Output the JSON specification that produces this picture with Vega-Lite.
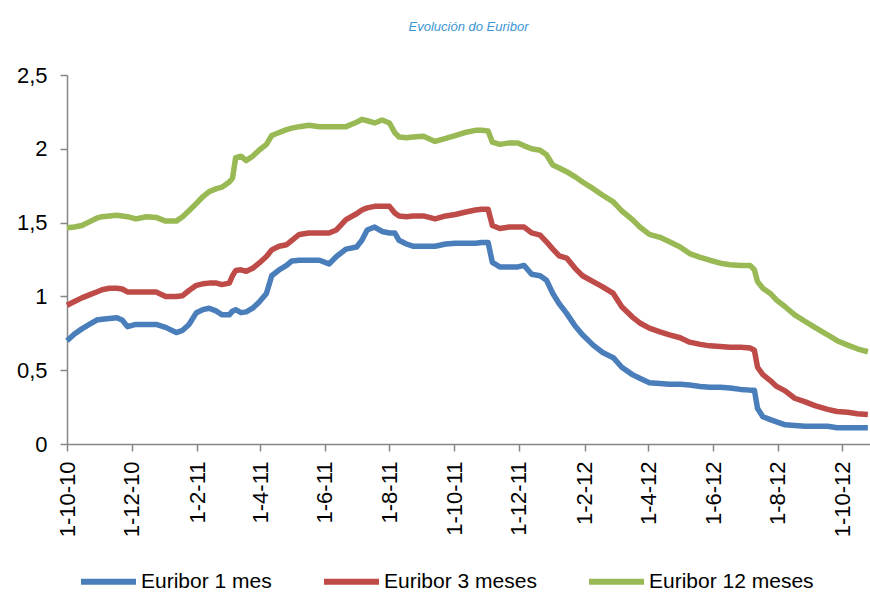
{
  "$schema": "https://vega.github.io/schema/vega-lite/v6.json",
  "width": 803,
  "height": 369,
  "autosize": {"type": "none"},
  "padding": {"left": 67, "top": 75, "right": 0, "bottom": 151},
  "background": "white",
  "title": {
    "text": "Evolución do Euribor",
    "anchor": "middle",
    "offset": 30,
    "font": "Liberation Sans",
    "fontStyle": "italic",
    "fontWeight": "normal",
    "fontSize": 13,
    "color": "#3A96D4"
  },
  "config": {
    "view": {"stroke": null},
    "axis": {
      "grid": false,
      "domainColor": "#868686",
      "tickColor": "#868686",
      "domainWidth": 1.5,
      "tickWidth": 1.5,
      "tickSize": 7,
      "labelColor": "#000000",
      "title": null
    }
  },
  "data": {
    "values": [
      {"d": "2010-10-01", "m1": 0.70, "m3": 0.94, "m12": 1.465},
      {"d": "2010-10-08", "m1": 0.745, "m3": 0.965, "m12": 1.47},
      {"d": "2010-10-15", "m1": 0.78, "m3": 0.99, "m12": 1.48},
      {"d": "2010-10-22", "m1": 0.81, "m3": 1.01, "m12": 1.505},
      {"d": "2010-10-29", "m1": 0.84, "m3": 1.03, "m12": 1.53},
      {"d": "2010-11-03", "m1": 0.845, "m3": 1.045, "m12": 1.54},
      {"d": "2010-11-10", "m1": 0.85, "m3": 1.055, "m12": 1.545},
      {"d": "2010-11-17", "m1": 0.855, "m3": 1.055, "m12": 1.55},
      {"d": "2010-11-22", "m1": 0.84, "m3": 1.05, "m12": 1.545},
      {"d": "2010-11-27", "m1": 0.795, "m3": 1.03, "m12": 1.54},
      {"d": "2010-12-05", "m1": 0.81, "m3": 1.03, "m12": 1.525},
      {"d": "2010-12-15", "m1": 0.81, "m3": 1.03, "m12": 1.54},
      {"d": "2010-12-24", "m1": 0.81, "m3": 1.03, "m12": 1.535},
      {"d": "2011-01-02", "m1": 0.79, "m3": 1.00, "m12": 1.51},
      {"d": "2011-01-12", "m1": 0.755, "m3": 1.00, "m12": 1.51},
      {"d": "2011-01-18", "m1": 0.77, "m3": 1.005, "m12": 1.54},
      {"d": "2011-01-24", "m1": 0.81, "m3": 1.04, "m12": 1.58},
      {"d": "2011-01-31", "m1": 0.89, "m3": 1.075, "m12": 1.63},
      {"d": "2011-02-06", "m1": 0.91, "m3": 1.085, "m12": 1.675},
      {"d": "2011-02-12", "m1": 0.92, "m3": 1.09, "m12": 1.71},
      {"d": "2011-02-19", "m1": 0.90, "m3": 1.09, "m12": 1.73},
      {"d": "2011-02-24", "m1": 0.875, "m3": 1.08, "m12": 1.74},
      {"d": "2011-03-03", "m1": 0.875, "m3": 1.09, "m12": 1.775},
      {"d": "2011-03-06", "m1": 0.90, "m3": 1.14, "m12": 1.80},
      {"d": "2011-03-09", "m1": 0.91, "m3": 1.175, "m12": 1.94},
      {"d": "2011-03-14", "m1": 0.89, "m3": 1.18, "m12": 1.95},
      {"d": "2011-03-19", "m1": 0.895, "m3": 1.17, "m12": 1.92},
      {"d": "2011-03-25", "m1": 0.92, "m3": 1.19, "m12": 1.95},
      {"d": "2011-03-31", "m1": 0.96, "m3": 1.225, "m12": 1.99},
      {"d": "2011-04-07", "m1": 1.02, "m3": 1.27, "m12": 2.03},
      {"d": "2011-04-12", "m1": 1.14, "m3": 1.315, "m12": 2.09},
      {"d": "2011-04-19", "m1": 1.18, "m3": 1.34, "m12": 2.11},
      {"d": "2011-04-26", "m1": 1.21, "m3": 1.35, "m12": 2.13},
      {"d": "2011-05-01", "m1": 1.24, "m3": 1.38, "m12": 2.14},
      {"d": "2011-05-08", "m1": 1.245, "m3": 1.42, "m12": 2.15},
      {"d": "2011-05-17", "m1": 1.245, "m3": 1.43, "m12": 2.16},
      {"d": "2011-05-27", "m1": 1.245, "m3": 1.43, "m12": 2.15},
      {"d": "2011-06-05", "m1": 1.22, "m3": 1.43, "m12": 2.15},
      {"d": "2011-06-12", "m1": 1.27, "m3": 1.45, "m12": 2.15},
      {"d": "2011-06-21", "m1": 1.32, "m3": 1.52, "m12": 2.15},
      {"d": "2011-07-01", "m1": 1.335, "m3": 1.56, "m12": 2.18},
      {"d": "2011-07-06", "m1": 1.38, "m3": 1.585, "m12": 2.20},
      {"d": "2011-07-11", "m1": 1.45, "m3": 1.60, "m12": 2.19},
      {"d": "2011-07-18", "m1": 1.47, "m3": 1.61, "m12": 2.175},
      {"d": "2011-07-25", "m1": 1.44, "m3": 1.61, "m12": 2.195},
      {"d": "2011-08-01", "m1": 1.43, "m3": 1.61, "m12": 2.175},
      {"d": "2011-08-06", "m1": 1.43, "m3": 1.565, "m12": 2.11},
      {"d": "2011-08-10", "m1": 1.38, "m3": 1.545, "m12": 2.08},
      {"d": "2011-08-17", "m1": 1.355, "m3": 1.54, "m12": 2.075},
      {"d": "2011-08-23", "m1": 1.34, "m3": 1.545, "m12": 2.08},
      {"d": "2011-09-02", "m1": 1.34, "m3": 1.545, "m12": 2.085},
      {"d": "2011-09-13", "m1": 1.34, "m3": 1.525, "m12": 2.05},
      {"d": "2011-09-23", "m1": 1.355, "m3": 1.545, "m12": 2.07},
      {"d": "2011-10-02", "m1": 1.36, "m3": 1.555, "m12": 2.09},
      {"d": "2011-10-11", "m1": 1.36, "m3": 1.57, "m12": 2.11},
      {"d": "2011-10-21", "m1": 1.36, "m3": 1.585, "m12": 2.125},
      {"d": "2011-10-27", "m1": 1.365, "m3": 1.59, "m12": 2.125},
      {"d": "2011-11-02", "m1": 1.365, "m3": 1.59, "m12": 2.12},
      {"d": "2011-11-06", "m1": 1.23, "m3": 1.48, "m12": 2.045},
      {"d": "2011-11-13", "m1": 1.20, "m3": 1.46, "m12": 2.03},
      {"d": "2011-11-22", "m1": 1.20, "m3": 1.47, "m12": 2.04},
      {"d": "2011-11-30", "m1": 1.20, "m3": 1.47, "m12": 2.04},
      {"d": "2011-12-06", "m1": 1.21, "m3": 1.47, "m12": 2.02},
      {"d": "2011-12-13", "m1": 1.15, "m3": 1.43, "m12": 2.00},
      {"d": "2011-12-21", "m1": 1.14, "m3": 1.415, "m12": 1.99},
      {"d": "2011-12-27", "m1": 1.11, "m3": 1.37, "m12": 1.96},
      {"d": "2012-01-02", "m1": 1.02, "m3": 1.32, "m12": 1.89},
      {"d": "2012-01-08", "m1": 0.95, "m3": 1.275, "m12": 1.87},
      {"d": "2012-01-15", "m1": 0.885, "m3": 1.26, "m12": 1.845},
      {"d": "2012-01-23", "m1": 0.80, "m3": 1.19, "m12": 1.81},
      {"d": "2012-01-30", "m1": 0.74, "m3": 1.14, "m12": 1.775},
      {"d": "2012-02-09", "m1": 0.67, "m3": 1.10, "m12": 1.73},
      {"d": "2012-02-18", "m1": 0.62, "m3": 1.065, "m12": 1.685},
      {"d": "2012-02-28", "m1": 0.585, "m3": 1.02, "m12": 1.64},
      {"d": "2012-03-07", "m1": 0.52, "m3": 0.93, "m12": 1.58},
      {"d": "2012-03-17", "m1": 0.47, "m3": 0.86, "m12": 1.52},
      {"d": "2012-03-24", "m1": 0.445, "m3": 0.82, "m12": 1.47},
      {"d": "2012-04-02", "m1": 0.415, "m3": 0.785, "m12": 1.42},
      {"d": "2012-04-12", "m1": 0.41, "m3": 0.76, "m12": 1.40},
      {"d": "2012-04-21", "m1": 0.405, "m3": 0.74, "m12": 1.37},
      {"d": "2012-05-01", "m1": 0.405, "m3": 0.72, "m12": 1.335},
      {"d": "2012-05-10", "m1": 0.40, "m3": 0.69, "m12": 1.29},
      {"d": "2012-05-20", "m1": 0.39, "m3": 0.675, "m12": 1.265},
      {"d": "2012-05-29", "m1": 0.385, "m3": 0.665, "m12": 1.245},
      {"d": "2012-06-08", "m1": 0.385, "m3": 0.66, "m12": 1.225},
      {"d": "2012-06-17", "m1": 0.38, "m3": 0.655, "m12": 1.215},
      {"d": "2012-06-27", "m1": 0.37, "m3": 0.655, "m12": 1.21},
      {"d": "2012-07-06", "m1": 0.365, "m3": 0.65, "m12": 1.21},
      {"d": "2012-07-10", "m1": 0.365, "m3": 0.635, "m12": 1.18},
      {"d": "2012-07-13", "m1": 0.24, "m3": 0.52, "m12": 1.10},
      {"d": "2012-07-18", "m1": 0.185, "m3": 0.47, "m12": 1.055},
      {"d": "2012-07-25", "m1": 0.165, "m3": 0.43, "m12": 1.02},
      {"d": "2012-07-31", "m1": 0.15, "m3": 0.39, "m12": 0.975},
      {"d": "2012-08-08", "m1": 0.13, "m3": 0.36, "m12": 0.93},
      {"d": "2012-08-17", "m1": 0.125, "m3": 0.31, "m12": 0.875},
      {"d": "2012-08-27", "m1": 0.12, "m3": 0.285, "m12": 0.83},
      {"d": "2012-09-05", "m1": 0.12, "m3": 0.26, "m12": 0.79},
      {"d": "2012-09-17", "m1": 0.12, "m3": 0.235, "m12": 0.74},
      {"d": "2012-09-26", "m1": 0.11, "m3": 0.22, "m12": 0.70},
      {"d": "2012-10-06", "m1": 0.11, "m3": 0.215, "m12": 0.67},
      {"d": "2012-10-15", "m1": 0.11, "m3": 0.205, "m12": 0.645},
      {"d": "2012-10-25", "m1": 0.11, "m3": 0.20, "m12": 0.625}
    ]
  },
  "transform": [
    {"fold": ["m1", "m3", "m12"], "as": ["serie", "valor"]}
  ],
  "mark": {"type": "line", "strokeWidth": 5.5, "strokeJoin": "round", "clip": false},
  "encoding": {
    "x": {
      "field": "d",
      "type": "temporal",
      "scale": {
        "type": "utc",
        "domain": [
          {"year": 2010, "month": 10, "date": 1, "utc": true},
          {"year": 2012, "month": 10, "date": 27, "utc": true}
        ],
        "nice": false
      },
      "axis": {
        "values": [
          {"year": 2010, "month": 10, "date": 1, "utc": true},
          {"year": 2010, "month": 12, "date": 1, "utc": true},
          {"year": 2011, "month": 2, "date": 1, "utc": true},
          {"year": 2011, "month": 4, "date": 1, "utc": true},
          {"year": 2011, "month": 6, "date": 1, "utc": true},
          {"year": 2011, "month": 8, "date": 1, "utc": true},
          {"year": 2011, "month": 10, "date": 1, "utc": true},
          {"year": 2011, "month": 12, "date": 1, "utc": true},
          {"year": 2012, "month": 2, "date": 1, "utc": true},
          {"year": 2012, "month": 4, "date": 1, "utc": true},
          {"year": 2012, "month": 6, "date": 1, "utc": true},
          {"year": 2012, "month": 8, "date": 1, "utc": true},
          {"year": 2012, "month": 10, "date": 1, "utc": true}
        ],
        "format": "%-d-%-m-%y",
        "labelAngle": -90,
        "labelAlign": "right",
        "labelBaseline": "middle",
        "labelPadding": 10,
        "labelFont": "Liberation Sans",
        "labelFontSize": 22,
        "labelOverlap": false,
        "labelBound": false,
        "labelFlush": false
      }
    },
    "y": {
      "field": "valor",
      "type": "quantitative",
      "scale": {"domain": [0, 2.5], "nice": false, "zero": true},
      "axis": {
        "values": [0, 0.5, 1, 1.5, 2, 2.5],
        "labelExpr": "replace(format(datum.value, '~g'), '.', ',')",
        "labelFont": "Liberation Sans",
        "labelFontSize": 22,
        "labelPadding": 13,
        "labelFlush": false
      }
    },
    "color": {
      "field": "serie",
      "type": "nominal",
      "sort": ["m1", "m3", "m12"],
      "scale": {"domain": ["m1", "m3", "m12"], "range": ["#4A7EBB", "#BE4B48", "#98B954"]},
      "legend": {
        "orient": "none",
        "direction": "horizontal",
        "legendX": 11,
        "legendY": 476,
        "title": null,
        "symbolType": "stroke",
        "symbolSize": 3025,
        "symbolStrokeWidth": 6,
        "labelFont": "Liberation Sans",
        "labelFontSize": 21,
        "labelColor": "#000000",
        "labelOffset": 2,
        "columnPadding": 40,
        "labelLimit": 300,
        "labelExpr": "{'m1': 'Euribor 1 mes', 'm3': 'Euribor 3 meses', 'm12': 'Euribor 12 meses'}[datum.label]"
      }
    }
  }
}
